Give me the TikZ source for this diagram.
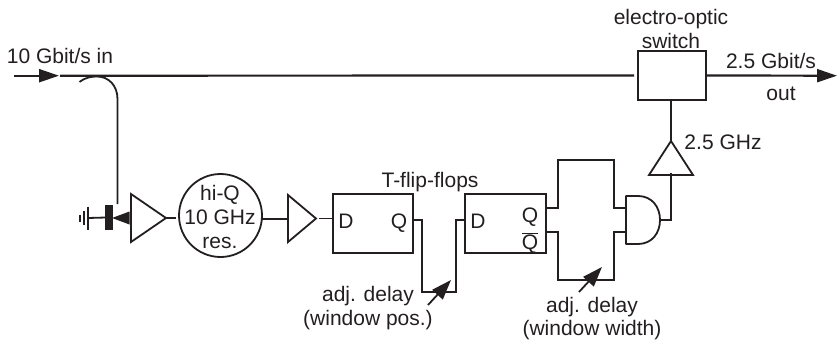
\documentclass[tikz,border=0pt]{standalone}
\usepackage{fontspec}
\setmainfont{Liberation Sans}
\usetikzlibrary{arrows.meta,shapes.geometric}
\definecolor{ink}{HTML}{231F20}
\tikzset{
  wire/.style={line width=1.8pt,draw=ink,line join=miter},
  mainwire/.style={line width=2.2pt,draw=ink},
  box/.style={draw=ink,line width=1.8pt,rectangle,inner sep=0pt,outer sep=0pt},
  amp/.style={draw=ink,line width=1.8pt,isosceles triangle,isosceles triangle stretches,inner sep=0pt,outer sep=0pt,line join=miter},
  lab/.style={text=ink,font=\fontsize{21}{24}\selectfont,anchor=base,inner sep=0pt,outer sep=0pt},
  bigtip/.style={-{Triangle[length=20pt,width=13pt,color=ink]}},
  adjtip/.style={-{Triangle[length=20pt,width=14pt,color=ink]}},
}
\begin{document}
\begin{tikzpicture}[x=1pt,y=-1pt]
\useasboundingbox (0,0) rectangle (840,340);
% main path
\coordinate (inS) at (14,75.7);
\coordinate (inT) at (59,75.7);
\coordinate (lineS) at (60,75.7);
\node[box,minimum width=68pt,minimum height=49pt] (sw) at (672,75.5) {};
\coordinate (outT) at (837,75.7);
\draw[mainwire,bigtip] (inS) -- (inT);
\draw[mainwire,shorten >=4pt] (lineS) -- (sw.west);
\draw[mainwire,bigtip,shorten <=1pt] (sw.east) -- (outT);
% coupler and detector
\coordinate (cplS) at (79.5,82);
\coordinate (cplD) at (117.5,204);
\draw[wire] (cplS) .. controls (86,77) and (92,76.5) .. (97,76.5)
  .. controls (109,76.5) and (117.5,86) .. (117.5,99) -- (cplD);
\node[box,fill=ink,minimum width=6pt,minimum height=23pt] (det) at (109,217.5) {};
\coordinate (detT) at (112,218);
\fill[ink] (detT) -- (129.5,211.5) -- (129.5,224.5) -- cycle;
\coordinate (g1) at (88,218);
\draw[wire] (g1) -- (det.west);
\coordinate (g1a) at (88,206.5);\coordinate (g1b) at (88,229.5);
\coordinate (g2a) at (84,211);\coordinate (g2b) at (84,225);
\coordinate (g3a) at (80,214.5);\coordinate (g3b) at (80,221.5);
\draw[wire] (g1a) -- (g1b);
\draw[wire] (g2a) -- (g2b);
\draw[wire] (g3a) -- (g3b);
% amplifiers and resonator
\node[amp,minimum width=48pt,minimum height=35pt,anchor=apex] (a1) at (166,218) {};
\node[draw=ink,line width=1.8pt,circle,minimum size=83pt,inner sep=0pt,outer sep=0pt] (res) at (220.5,215.5) {};
\node[amp,minimum width=47pt,minimum height=28pt,anchor=apex] (a2) at (316,218.5) {};
\node[box,minimum width=80pt,minimum height=59pt] (ff1) at (373,223.5) {};
\node[box,minimum width=81pt,minimum height=59pt] (ff2) at (505.5,223.5) {};
\draw[wire] (a1.apex) -- (175.5,218);
\draw[wire] (res.east |- 0,219) -- (a2.west |- 0,219);
\coordinate (a2o) at (319,218.5);
\draw[wire] (a2o) -- (a2o -| ff1.west);
% delay 1
\coordinate (q1) at (ff1.east |- 0,220);
\coordinate (d2) at (ff2.west |- 0,220);
\coordinate (dl1) at (422,292);
\coordinate (dl2) at (456,292);
\draw[wire] (q1) -- (dl1 |- q1) -- (dl1) -- (dl2) -- (dl2 |- d2) -- (d2);
% delay 2
\coordinate (q2) at (ff2.east |- 0,208);
\coordinate (qb2) at (ff2.east |- 0,232);
\coordinate (ai1) at (626,208);
\coordinate (ai2) at (626,232);
\draw[wire] (q2) -- (558,208) -- (558,160) -- (614,160) -- (614,208) -- (ai1);
\draw[wire] (qb2) -- (558,232) -- (558,280) -- (614,280) -- (614,232) -- (ai2);
% AND gate
\coordinate (andO) at (660,220);
\draw[wire,line join=round] (626,196) -- (638,196) .. controls (652,196) and (660,207) .. (andO) .. controls (660,233) and (652,244) .. (638,244) -- (626,244) -- cycle;
% driver
\node[amp,shape border rotate=90,minimum width=44pt,minimum height=34pt,anchor=apex] (a3) at (671,141) {};
\coordinate (a3i) at (671,172.5);
\draw[wire] (andO) -- (671,220) -- (a3i);
\draw[wire] (a3.apex) -- (sw.south -| a3.apex);
% adjust arrows
\coordinate (adj1s) at (428,305);\coordinate (adj1t) at (451,280);
\coordinate (adj2s) at (579,292);\coordinate (adj2t) at (602,267);
\draw[wire,adjtip] (adj1s) -- (adj1t);
\draw[wire,adjtip] (adj2s) -- (adj2t);
% labels
\node[lab] (t1) at (60,63) {10 Gbit/s in};
\node[lab] (t2) at (671,24) {electro-optic};
\node[lab] (t3) at (671,48) {switch};
\node[lab] (t4) at (771,68) {2.5 Gbit/s};
\node[lab] (t5) at (781,100) {out};
\node[lab] (t6) at (723,149) {2.5 GHz};
\node[lab] (t7) at (220,200) {hi-Q};
\node[lab] (t8) at (220,224.5) {10 GHz};
\node[lab] (t9) at (220,248) {res.};
\node[lab] (t10) at (430,187) {T-flip-flops};
\node[lab] (t11) at (346,228) {D};
\node[lab] (t12) at (399,228) {Q};
\node[lab] (t13) at (478,228) {D};
\node[lab] (t14) at (530,222) {Q};
\node[lab] (t15) at (530,249) {$\overline{\hbox{Q}}$};
\node[lab] (t16) at (368,301) {adj. delay};
\node[lab] (t17) at (368,325) {(window pos.)};
\node[lab] (t18) at (592,312) {adj. delay};
\node[lab] (t19) at (592,335) {(window width)};
\end{tikzpicture}
\end{document}
